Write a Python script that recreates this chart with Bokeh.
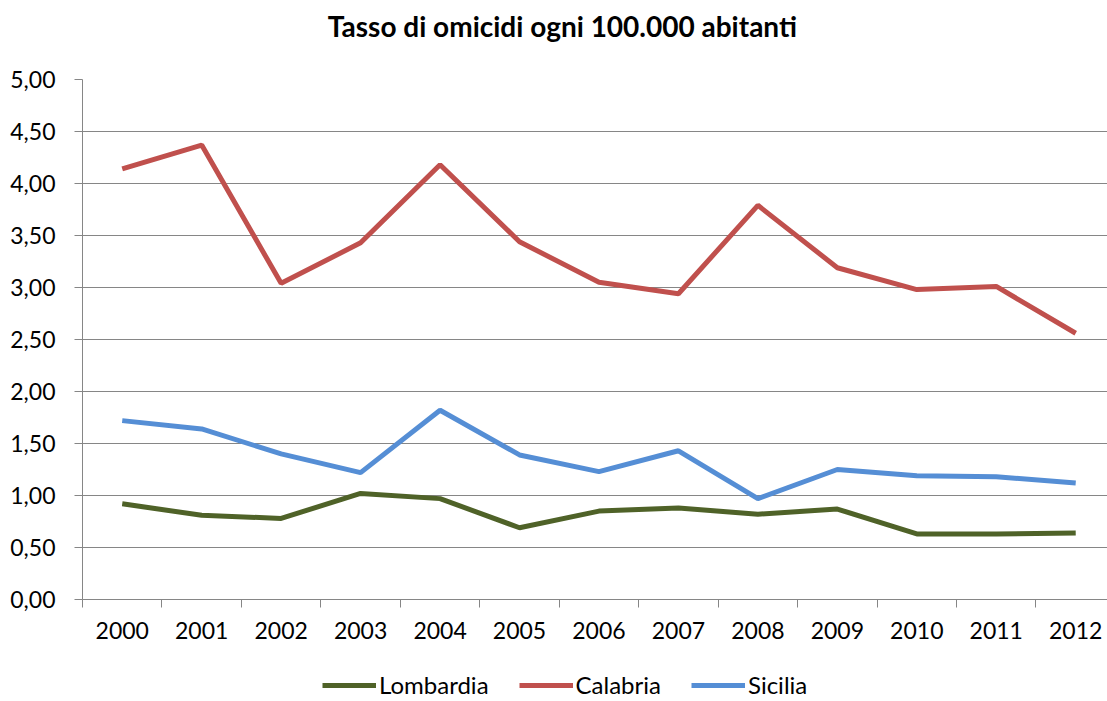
from bokeh.plotting import figure
from bokeh.models import (Range1d, FixedTicker, CustomJSTickFormatter, Legend,
                          LegendItem, Label)
from bokeh.layouts import column
from bokeh.embed import file_html
from bokeh.resources import INLINE

years = ["2000", "2001", "2002", "2003", "2004", "2005", "2006",
         "2007", "2008", "2009", "2010", "2011", "2012"]
lombardia = [0.92, 0.81, 0.78, 1.02, 0.97, 0.69, 0.85, 0.88, 0.82, 0.87, 0.63, 0.63, 0.64]
calabria = [4.14, 4.37, 3.04, 3.43, 4.18, 3.44, 3.05, 2.94, 3.79, 3.19, 2.98, 3.01, 2.56]
sicilia = [1.72, 1.64, 1.40, 1.22, 1.82, 1.39, 1.23, 1.43, 0.97, 1.25, 1.19, 1.18, 1.12]
y_ticks = [0, 0.5, 1, 1.5, 2, 2.5, 3, 3.5, 4, 4.5, 5]
title_text = "Tasso di omicidi ogni 100.000 abitanti"
series = [("Lombardia", lombardia, "#4F6228"),
          ("Calabria", calabria, "#C0504D"),
          ("Sicilia", sicilia, "#558ED5")]

FONT = "Lato"
GRID = "#868686"

xs = list(range(len(years)))


def strip(height):
    f = figure(width=1107, height=height, output_backend="svg", toolbar_location=None,
               x_range=Range1d(-0.5, 12.4), y_range=Range1d(0, 1),
               min_border_left=0, min_border_right=0, min_border_top=0,
               min_border_bottom=0)
    f.axis.visible = False
    f.grid.visible = False
    f.outline_line_color = None
    f.background_fill_color = "white"
    f.border_fill_color = "white"
    return f


# title strip
pt = strip(50)
pt.add_layout(Label(x=5.54, y=0.5, text=title_text, text_align="center",
                    text_baseline="middle", text_font=FONT, text_font_style="bold",
                    text_font_size="28px", text_color="black"))

# main chart
p = figure(width=1107, height=610, output_backend="svg", toolbar_location=None,
           x_range=Range1d(-0.5, 12.4), y_range=Range1d(0, 5),
           min_border_left=82, min_border_right=0, min_border_top=29,
           min_border_bottom=61)
p.outline_line_color = None
p.background_fill_color = "white"
p.border_fill_color = "white"

p.xgrid.grid_line_color = None
p.ygrid.grid_line_color = GRID
p.ygrid.grid_line_width = 1
p.ygrid.ticker = FixedTicker(ticks=y_ticks)

p.yaxis.ticker = FixedTicker(ticks=y_ticks)
p.yaxis.formatter = CustomJSTickFormatter(code="return tick.toFixed(2).replace('.', ',');")
p.yaxis.axis_line_color = GRID
p.yaxis.major_tick_line_color = GRID
p.yaxis.major_tick_in = 0
p.yaxis.major_tick_out = 8
p.yaxis.minor_tick_line_color = None
p.yaxis.major_label_standoff = 19
p.yaxis.major_label_text_font = FONT
p.yaxis.major_label_text_font_size = "23px"
p.yaxis.major_label_text_color = "black"

p.xaxis.ticker = FixedTicker(ticks=xs, minor_ticks=[i - 0.5 for i in range(len(years) + 1)])
p.xaxis.major_label_overrides = {i: y for i, y in enumerate(years)}
p.xaxis.axis_line_color = GRID
p.xaxis.major_tick_line_color = None
p.xaxis.minor_tick_line_color = GRID
p.xaxis.minor_tick_in = 0
p.xaxis.minor_tick_out = 8
p.xaxis.major_tick_out = 8
p.xaxis.major_tick_in = 0
p.xaxis.major_label_standoff = 14
p.xaxis.major_label_text_font = FONT
p.xaxis.major_label_text_font_size = "23px"
p.xaxis.major_label_text_color = "black"

for name, vals, col in series:
    p.line(xs, vals, line_color=col, line_width=5)

# legend strip below the chart (its lines lie outside its visible range)
pl = strip(41)
pl.y_range = Range1d(100, 101)
items = []
for name, vals, col in series:
    r = pl.line(xs, vals, line_color=col, line_width=5)
    items.append(LegendItem(label=name, renderers=[r]))

legend = Legend(items=items, orientation="horizontal", location=(240, 2),
                glyph_width=54, glyph_height=20, label_height=20,
                label_standoff=3, spacing=30, padding=0, margin=0,
                border_line_color=None, background_fill_alpha=0,
                label_text_font=FONT, label_text_font_size="24px",
                label_text_color="black")
pl.add_layout(legend, "center")

layout = column(pt, p, pl, spacing=0)
open("out.html", "w").write(file_html(layout, INLINE))
